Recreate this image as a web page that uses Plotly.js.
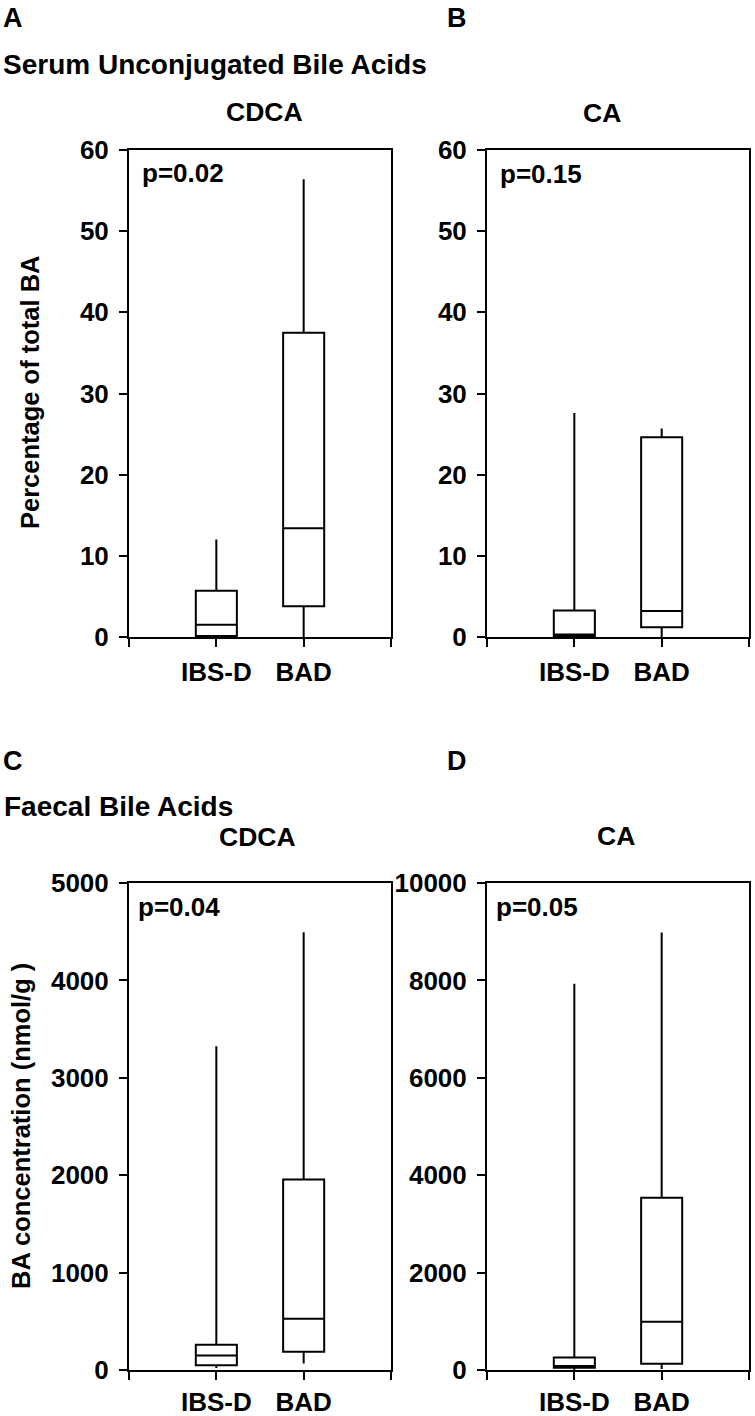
<!DOCTYPE html>
<html>
<head>
<meta charset="utf-8">
<script src="https://cdn.plot.ly/plotly-3.0.1.min.js"></script>
<style>html,body{margin:0;padding:0;background:#fff;}#chart{width:755px;height:1416px;}</style>
</head>
<body>
<div id="chart"></div>
<script>
// ---- data ----
const categories = ['IBS-D', 'BAD'];
const categoryPos = [1, 2];

// Panel A: serum unconjugated CDCA (% of total BA)
const serumCDCA_q1 = [0.12, 3.8];
const serumCDCA_median = [1.5, 13.4];
const serumCDCA_q3 = [5.7, 37.5];
const serumCDCA_low = [0, 0];
const serumCDCA_high = [12.0, 56.4];

// Panel B: serum unconjugated CA (% of total BA)
const serumCA_q1 = [0.08, 1.2];
const serumCA_median = [0.3, 3.2];
const serumCA_q3 = [3.25, 24.6];
const serumCA_low = [0, 0];
const serumCA_high = [27.6, 25.7];

// Panel C: faecal CDCA (nmol/g)
const faecalCDCA_q1 = [48, 188];
const faecalCDCA_median = [150, 526];
const faecalCDCA_q3 = [260, 1956];
const faecalCDCA_low = [20, 68];
const faecalCDCA_high = [3324, 4494];

// Panel D: faecal CA (nmol/g)
const faecalCA_q1 = [45, 130];
const faecalCA_median = [80, 991];
const faecalCA_q3 = [255, 3535];
const faecalCA_low = [0, 20];
const faecalCA_high = [7932, 8985];

const pValues = ['p=0.02', 'p=0.15', 'p=0.04', 'p=0.05'];
const panelLetters = ['A', 'B', 'C', 'D'];
const analyteNames = ['CDCA', 'CA', 'CDCA', 'CA'];
const sectionTitles = ['Serum Unconjugated Bile Acids', 'Faecal Bile Acids'];
const yTitles = ['Percentage of total BA', 'BA concentration (nmol/g )'];

// ---- layout helpers ----
const W = 755, H = 1416;
const FONT = 'Liberation Sans, Arial, Helvetica, sans-serif';
const px = x => x / W;
const py = y => 1 - y / H;

function boxTrace(xa, ya, q1, med, q3, lo, hi) {
  return {
    type: 'box', xaxis: xa, yaxis: ya,
    x: categoryPos, q1: q1, median: med, q3: q3, lowerfence: lo, upperfence: hi,
    boxpoints: false, whiskerwidth: 0, width: 0.47,
    fillcolor: '#ffffff', line: {color: '#000000', width: 2},
    showlegend: false, hoverinfo: 'skip'
  };
}

const data = [
  boxTrace('x', 'y', serumCDCA_q1, serumCDCA_median, serumCDCA_q3, serumCDCA_low, serumCDCA_high),
  boxTrace('x2', 'y2', serumCA_q1, serumCA_median, serumCA_q3, serumCA_low, serumCA_high),
  boxTrace('x3', 'y3', faecalCDCA_q1, faecalCDCA_median, faecalCDCA_q3, faecalCDCA_low, faecalCDCA_high),
  boxTrace('x4', 'y4', faecalCA_q1, faecalCA_median, faecalCA_q3, faecalCA_low, faecalCA_high)
];

const tickFont = {family: FONT, size: 26, color: '#000', weight: 700};

function xAxis(domain, anchor, standoff) {
  return {
    domain: domain, anchor: anchor, range: [0, 3],
    tickvals: [0, 1, 2, 3], ticktext: ['', categories[0], categories[1], ''],
    ticks: 'outside', ticklen: 8, tickwidth: 2, tickcolor: '#000',
    ticklabelstandoff: standoff,
    showline: true, linecolor: '#000', linewidth: 2, mirror: true,
    showgrid: false, zeroline: false, tickfont: tickFont, fixedrange: true
  };
}
function yAxis(domain, anchor, range, dtick) {
  return {
    domain: domain, anchor: anchor, range: range, dtick: dtick, tick0: 0,
    tickformat: 'd',
    ticks: 'outside', ticklen: 8, tickwidth: 2, tickcolor: '#000',
    ticklabelstandoff: 5,
    showline: true, linecolor: '#000', linewidth: 2, mirror: true,
    showgrid: false, zeroline: false, tickfont: tickFont, fixedrange: true
  };
}

const xLeft = [px(129), px(391)], xRight = [px(487), px(749)];
const yTop = [py(637), py(150)], yBot = [py(1370), py(883)];

function ann(text, x, y, xanchor, size, extra) {
  return Object.assign({
    text: text, xref: 'paper', yref: 'paper', x: px(x), y: py(y),
    xanchor: xanchor, yanchor: 'middle', showarrow: false,
    font: {family: FONT, size: size, color: '#000', weight: 700}
  }, extra || {});
}

const annotations = [
  ann(panelLetters[0], 1, 18, 'left', 27),
  ann(panelLetters[1], 445, 18, 'left', 27),
  ann(sectionTitles[0], 1, 64, 'left', 28),
  ann(analyteNames[0], 264, 112, 'center', 26.5),
  ann(analyteNames[1], 602, 113, 'center', 26.5),
  ann(pValues[0], 140, 173, 'left', 26),
  ann(pValues[1], 498, 174, 'left', 26),
  ann(yTitles[0], 30, 393, 'center', 25.5, {textangle: -90}),
  ann(panelLetters[2], 1, 761, 'left', 27),
  ann(panelLetters[3], 445, 761, 'left', 27),
  ann(sectionTitles[1], 2, 806, 'left', 28),
  ann(analyteNames[2], 257, 837, 'center', 26.5),
  ann(analyteNames[3], 616, 836, 'center', 26.5),
  ann(pValues[2], 136, 907, 'left', 26),
  ann(pValues[3], 494, 907, 'left', 26),
  ann(yTitles[1], 21, 1126, 'center', 25.5, {textangle: -90})
];

const layout = {
  width: W, height: H,
  margin: {l: 0, r: 0, t: 0, b: 0},
  paper_bgcolor: '#fff', plot_bgcolor: '#fff',
  showlegend: false,
  xaxis: xAxis(xLeft, 'y', 3), yaxis: yAxis(yTop, 'x', [0, 60], 10),
  xaxis2: xAxis(xRight, 'y2', 3), yaxis2: yAxis(yTop, 'x2', [0, 60], 10),
  xaxis3: xAxis(xLeft, 'y3', 0), yaxis3: yAxis(yBot, 'x3', [0, 5000], 1000),
  xaxis4: xAxis(xRight, 'y4', 0), yaxis4: yAxis(yBot, 'x4', [0, 10000], 2000),
  annotations: annotations
};

Plotly.newPlot('chart', data, layout, {staticPlot: true, displayModeBar: false});
</script>
</body>
</html>
